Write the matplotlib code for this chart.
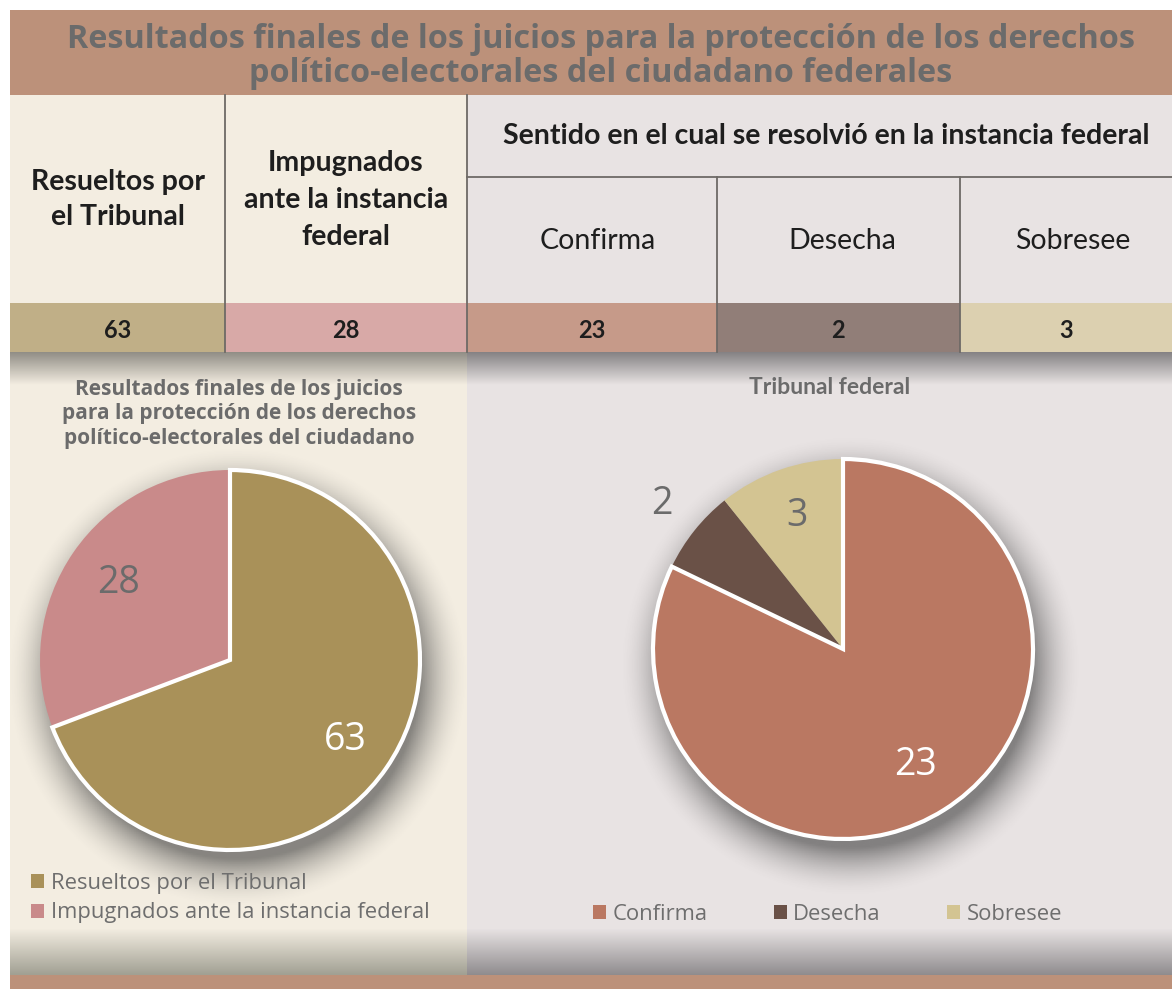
import numpy as np
import matplotlib
matplotlib.use("Agg")
import matplotlib.pyplot as plt
from matplotlib.patches import Rectangle, Patch

# --- datos ---
titulo = ["Resultados finales de los juicios para la protección de los derechos",
          "político-electorales del ciudadano federales"]
col_resueltos = ["Resueltos por", "el Tribunal"]
col_impugnados = ["Impugnados", "ante la instancia", "federal"]
col_sentido = "Sentido en el cual se resolvió en la instancia federal"
sentidos = ["Confirma", "Desecha", "Sobresee"]

resueltos = 63
impugnados = 28
valores_sentido = [23, 2, 3]

pie1_labels = ["Resueltos por el Tribunal", "Impugnados ante la instancia federal"]
pie1_values = [resueltos, impugnados]
pie1_title = "Resultados finales de los juicios\npara la protección de los derechos\npolítico-electorales del ciudadano"
pie2_title = "Tribunal federal"

# --- colores ---
BROWN = "#BC917A"
CREAM = "#F3EDE1"
GREYBG = "#E8E3E3"
LINE = "#6E6A66"
TXT_GREY = "#6B6B6B"
cell_colors = ["#C0AF87", "#D8A9A7", "#C69A89", "#917E78", "#DCD0B0"]
pie1_colors = ["#A99159", "#C98A8A"]
pie2_colors = ["#BA7862", "#6A5147", "#D3C492"]

W, H = 1172, 989
fig = plt.figure(figsize=(W / 100, H / 100), dpi=100)
fig.patch.set_facecolor("white")

# lienzo en pixeles
ax0 = fig.add_axes([0, 0, 1, 1])
ax0.set_xlim(0, W)
ax0.set_ylim(H, 0)
ax0.axis("off")

def rect(x0, y0, x1, y1, color, z=0):
    ax0.add_patch(Rectangle((x0, y0), x1 - x0, y1 - y0, facecolor=color,
                            edgecolor="none", zorder=z))

xs = [10, 225, 467, 717, 960, 1172]

rect(10, 10, W, 95, BROWN)
rect(10, 95, 467, 303, CREAM)
rect(467, 95, W, 303, GREYBG)
for i, c in enumerate(cell_colors):
    rect(xs[i], 303, xs[i + 1], 352, c)
rect(10, 352, 467, 975, CREAM)
rect(467, 352, W, 975, GREYBG)
rect(10, 975, W, H, BROWN)

# lineas de la tabla
lw = 1.3
ax0.plot([225, 225], [95, 352], color=LINE, lw=lw, zorder=2)
ax0.plot([467, 467], [95, 352], color=LINE, lw=lw, zorder=2)
ax0.plot([717, 717], [177, 352], color=LINE, lw=lw, zorder=2)
ax0.plot([960, 960], [177, 352], color=LINE, lw=lw, zorder=2)
ax0.plot([467, W], [177, 177], color=LINE, lw=lw, zorder=2)

# degradados (sombra)
def gradient(x0, x1, y0, y1, rgb, a0, a1, z=1):
    n = 64
    a = np.linspace(a0, a1, n)[:, None]
    img = np.zeros((n, 2, 4))
    img[..., :3] = rgb
    img[..., 3] = a
    ax0.imshow(img, extent=(x0, x1, y1, y0), aspect="auto", zorder=z,
               interpolation="bilinear")

gradient(10, 467, 352, 385, (0.50, 0.49, 0.46), 0.85, 0.0)
gradient(467, W, 352, 385, (0.45, 0.44, 0.45), 0.85, 0.0)
gradient(10, 467, 928, 975, (0.55, 0.55, 0.50), 0.0, 0.8)
gradient(467, W, 928, 975, (0.50, 0.49, 0.50), 0.0, 0.85)
ax0.set_xlim(0, W)
ax0.set_ylim(H, 0)

# textos de la tabla
for i, t in enumerate(titulo):
    ax0.text(601, 40 + 34 * i, t, ha="center", va="center", fontsize=23.3,
             fontweight="bold", color=TXT_GREY, family="Open Sans", zorder=3)

hdr = dict(ha="center", va="center", fontsize=20.5, fontweight="bold",
           color="#1E1E1E", family="Lato", zorder=3)
for i, t in enumerate(col_resueltos):
    ax0.text(118, 182 + 35 * i, t, **hdr)
for i, t in enumerate(col_impugnados):
    ax0.text(346, 163 + 37 * i, t, **hdr)
ax0.text(826, 136, col_sentido, **hdr)
for x, t in zip([598, 842, 1073], sentidos):
    ax0.text(x, 241, t, ha="center", va="center", fontsize=20.5,
             color="#1E1E1E", family="Lato", zorder=3)

vals = [resueltos, impugnados] + valores_sentido
for i, v in enumerate(vals):
    ax0.text((xs[i] + xs[i + 1]) / 2, 330, str(v), ha="center", va="center",
             fontsize=17, fontweight="bold", color="#1E1E1E", family="Lato",
             zorder=3)

# titulos de los graficos
ax0.text(239, 414, pie1_title, ha="center", va="center", fontsize=15,
         fontweight="bold", color=TXT_GREY, family="Open Sans", linespacing=1.22,
         zorder=3)
ax0.text(830, 388, pie2_title, ha="center", va="center", fontsize=16.5,
         fontweight="bold", color=TXT_GREY, family="Lato", zorder=3)

# --- pasteles ---
LIM = 1.4

def pie_axes(cx, cy, r):
    size = 2 * LIM * r
    ax = fig.add_axes([(cx - size / 2) / W, 1 - (cy + size / 2) / H,
                       size / W, size / H])
    ax.set_xlim(-LIM, LIM)
    ax.set_ylim(-LIM, LIM)
    ax.axis("off")
    # sombra suave
    n = 300
    g = np.linspace(-LIM, LIM, n)
    X, Y = np.meshgrid(g, g)
    d = np.hypot(X - 0.04, Y + 0.09)
    a = np.clip((1.22 - d) / 0.26, 0, 1) ** 1.8 * 0.6
    img = np.zeros((n, n, 4))
    img[..., :3] = 0.25
    img[..., 3] = a
    ax.imshow(img, extent=(-LIM, LIM, -LIM, LIM), origin="lower", zorder=0)
    return ax

def draw_pie(ax, values, colors, label_colors, dists):
    wedges, _ = ax.pie(values, colors=colors, startangle=90, counterclock=False,
                       radius=1, wedgeprops=dict(linewidth=0))
    for w in wedges:
        w.set_zorder(2)
    wedges[0].set_edgecolor("white")
    wedges[0].set_linewidth(3)
    wedges[0].set_zorder(3)
    for w, v, c, dd in zip(wedges, values, label_colors, dists):
        ang = np.deg2rad((w.theta1 + w.theta2) / 2)
        ax.text(dd * np.cos(ang), dd * np.sin(ang), str(v), ha="center",
                va="center", fontsize=27, color=c, family="Open Sans", zorder=4)
    ax.set_xlim(-LIM, LIM)
    ax.set_ylim(-LIM, LIM)
    return wedges

ax1 = pie_axes(230, 660, 190)
draw_pie(ax1, pie1_values, pie1_colors, ["white", TXT_GREY], [0.74, 0.71])

ax2 = pie_axes(843, 649, 190)
draw_pie(ax2, valores_sentido, pie2_colors, ["white", TXT_GREY, TXT_GREY],
         [0.72, 1.22, 0.74])

# --- leyendas ---
leg_kw = dict(frameon=False, handlelength=0.6, handleheight=0.6,
              handletextpad=0.3, borderpad=0, borderaxespad=0,
              prop=dict(family="Open Sans", size=15.8),
              labelcolor="#6E6E6E", bbox_transform=fig.transFigure)
h1 = [Patch(facecolor=c, edgecolor="none") for c in pie1_colors]
fig.legend(h1, pie1_labels, loc="center left", labelspacing=0.4,
           bbox_to_anchor=(31 / W, 1 - 898 / H), **leg_kw)
h2 = [Patch(facecolor=c, edgecolor="none") for c in pie2_colors]
fig.legend(h2, sentidos, loc="center left", ncol=3, columnspacing=3.0,
           bbox_to_anchor=(593 / W, 1 - 914 / H), **leg_kw)

fig.savefig("out.png", dpi=100, facecolor=fig.get_facecolor())
